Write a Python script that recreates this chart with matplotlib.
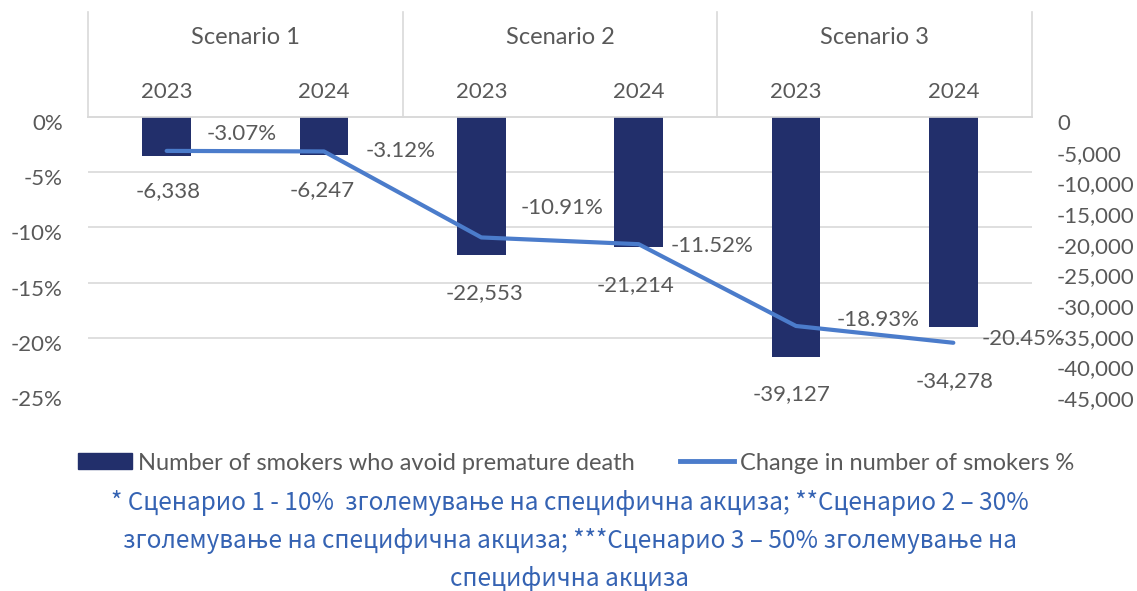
import matplotlib
matplotlib.use("Agg")
import matplotlib.pyplot as plt
from matplotlib.ticker import FuncFormatter, MultipleLocator
from matplotlib.transforms import ScaledTranslation
import numpy as np

# data
scenarios = ["Scenario 1", "Scenario 2", "Scenario 3"]
years = ["2023", "2024"]
avoided_deaths = [-6338, -6247, -22553, -21214, -39127, -34278]
change_pct = [-3.07, -3.12, -10.91, -11.52, -18.93, -20.45]
legend_labels = ["Number of smokers who avoid premature death",
                 "Change in number of smokers %"]
caption_lines = ["* Сценарио 1 - 10%  зголемување на специфична акциза; **Сценарио 2 – 30%",
                 "зголемување на специфична акциза; ***Сценарио 3 – 50% зголемување на",
                 "специфична акциза"]

# label offsets (points), hand placed like in the original
bar_lbl_off = [(1, -25), (-1, -25), (2, -27), (-2, -27), (-3, -27), (1, -39)]
pct_lbl_off = [(54, 12), (55, 0), (58, 21), (53, -1), (59, 4), (50, 3)]

navy = "#222f6b"
lineblue = "#4b7ccb"
grey = "#595959"
gridc = "#d9d9d9"

plt.rcParams["font.family"] = ["Lato", "DejaVu Sans"]
fs = 16

W, H = 1137, 591
fig = plt.figure(figsize=(W / 100, H / 100), dpi=100)
ax = fig.add_axes([88 / W, 1 - 393 / H, 944 / W, 276 / H])
ax2 = ax.twinx()
ax.set_zorder(ax2.get_zorder() + 1)
ax.patch.set_visible(False)

x = np.arange(len(avoided_deaths))
down = ScaledTranslation(0, -5 / 100, fig.dpi_scale_trans)

# bars on the right axis
ax2.bar(x, avoided_deaths, width=0.31, color=navy, zorder=3)
ax2.set_ylim(-45000, 0)
ax2.yaxis.set_major_locator(MultipleLocator(5000))
ax2.yaxis.set_minor_locator(MultipleLocator(9000))
ax2.yaxis.set_major_formatter(FuncFormatter(lambda v, p: f"{v:,.0f}"))
ax2.grid(axis="y", which="minor", color=gridc, lw=1.2, zorder=0)
ax2.tick_params(axis="y", which="both", length=0, labelsize=fs, labelcolor=grey, pad=18)
for lbl in ax2.get_yticklabels():
    lbl.set_horizontalalignment("left")
    lbl.set_transform(lbl.get_transform() + down)
for i, v in enumerate(avoided_deaths):
    ax2.annotate(f"{v:,}", (x[i], v), xytext=bar_lbl_off[i], textcoords="offset points",
                 ha="center", va="center", fontsize=fs, color=grey)

# line on the left axis
ax.plot(x, change_pct, color=lineblue, lw=3, solid_capstyle="round", zorder=5)
ax.set_ylim(-25, 0)
ax.set_xlim(-0.5, len(x) - 0.5)
ax.yaxis.set_major_locator(MultipleLocator(5))
ax.yaxis.set_major_formatter(FuncFormatter(lambda v, p: f"{v:.0f}%"))
ax.tick_params(axis="y", length=0, labelsize=fs, labelcolor=grey, pad=18)
for lbl in ax.get_yticklabels():
    lbl.set_transform(lbl.get_transform() + down)
for i, v in enumerate(change_pct):
    ax.annotate(f"{v:.2f}%", (x[i], v), xytext=pct_lbl_off[i], textcoords="offset points",
                ha="center", va="center", fontsize=fs, color=grey)

# top category axis (years, then scenario boxes)
ax.xaxis.tick_top()
ax.set_xticks(x)
ax.set_xticklabels(years * len(scenarios))
ax.tick_params(axis="x", length=0, labelsize=fs, labelcolor=grey, pad=11)
for a in (ax, ax2):
    for s in ["left", "right", "bottom"]:
        a.spines[s].set_visible(False)
    a.spines["top"].set_color(gridc)
    a.spines["top"].set_linewidth(1.2)

trans = ax.get_xaxis_transform()
top_y = 1 + 105 / 276
for b in np.arange(-0.5, len(x), 2):
    ax.plot([b, b], [1, top_y], color=gridc, lw=1.2, transform=trans, clip_on=False)
for j, name in enumerate(scenarios):
    ax.text(2 * j + 0.5, 1 + 80 / 276, name, transform=trans, ha="center", va="center",
            fontsize=17, color=grey)

# legend
h_bar = plt.Rectangle((0, 0), 1, 1, color=navy)
h_line = plt.Line2D([], [], color=lineblue, lw=3.5)
fig.legend([h_bar, h_line], legend_labels, loc="center", bbox_to_anchor=(576 / W, 1 - 463 / H),
           ncol=2, frameon=False, fontsize=17, labelcolor=grey, handlelength=2.3,
           handleheight=0.64, handletextpad=0.25, columnspacing=1.9, borderpad=0)

# caption
for k, line in enumerate(caption_lines):
    fig.text(570 / W, 1 - (503 + 38 * k) / H, line, ha="center", va="center",
             fontsize=17.5, color="#3563b3", family=["Noto Sans CJK SC", "DejaVu Sans"])

fig.savefig("out.png", dpi=100)
